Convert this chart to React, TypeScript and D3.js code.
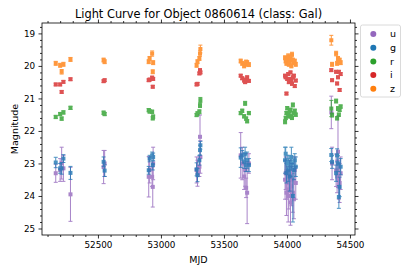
import React, { useEffect, useRef } from "react";
import * as d3 from "d3";

// observation epochs (shared by all filters)
const mjd = [
  52165, 52200, 52212, 52226, 52282,
  52545, 52553,
  52903, 52910, 52930, 52935, 52938,
  53283, 53290, 53305, 53310, 53313,
  53633, 53645, 53660, 53668, 53676, 53684, 53698,
  53985, 53990, 53996, 54002, 54010, 54015, 54022, 54028, 54035, 54040, 54047, 54055, 54062, 54070,
  54352, 54358, 54390, 54398, 54405, 54412, 54418, 54426,
];

const uMag = [
  23.3, 23.2, 22.99, 23.15, 23.95,
  23.11, 23.0,
  23.41, 23.2, 23.41, 23.72, 23.0,
  23.2, 23.3, 23.1, 22.18, 22.8,
  22.75, 23.0, 23.4, 23.2, 23.75, 23.9, 23.0,
  23.5, 23.3, 23.9, 23.6, 24.0, 23.8, 23.4, 24.2, 23.7, 23.5, 23.9, 24.1, 23.2, 23.6,
  21.43, 23.0, 23.21, 23.4, 22.64, 23.5, 23.6, 23.3,
];
const uErr = [
  0.28, 0.35, 0.49, 0.4, 0.83,
  0.51, 0.4,
  0.62, 0.4, 0.3, 0.62, 0.5,
  0.4, 0.4, 0.3, 0.67, 0.5,
  0.7, 0.5, 0.4, 0.5, 0.3, 0.95, 0.3,
  0.6, 0.5, 0.7, 0.5, 0.8, 0.6, 0.5, 0.7, 0.6, 0.5, 0.6, 0.6, 0.4, 0.5,
  0.5, 0.5, 0.5, 0.5, 1.1, 0.6, 0.6, 0.5,
];

const gMag = [
  22.97, 23.15, 23.15, 22.85, 23.29,
  22.95, 23.22,
  23.21, 22.85, 22.75, 23.05, 22.8,
  23.18, 23.36, 22.9, 22.59, 22.44,
  22.82, 22.75, 22.95, 22.7, 23.05, 22.9, 23.05,
  22.9, 22.7, 23.3, 23.0, 23.2, 22.95, 23.4, 23.1, 22.8, 23.0, 24.0, 23.2, 22.9, 23.1,
  22.74, 22.95, 23.3, 22.75, 23.0, 24.03, 23.72, 23.1,
];
const gErr = [
  0.16, 0.15, 0.18, 0.12, 0.2,
  0.15, 0.18,
  0.12, 0.1, 0.1, 0.15, 0.12,
  0.2, 0.2, 0.15, 0.15, 0.12,
  0.3, 0.15, 0.2, 0.2, 0.2, 0.25, 0.2,
  0.4, 0.2, 0.3, 0.25, 0.35, 0.2, 0.45, 0.3, 0.3, 0.2, 0.8, 0.3, 0.2, 0.3,
  0.2, 0.2, 0.25, 0.2, 0.25, 0.35, 0.3, 0.25,
];

const rMag = [
  21.57, 21.48, 21.62, 21.43, 21.29,
  21.44, 21.48,
  21.36, 21.4, 21.41, 21.61, 21.56,
  21.51, 21.46, 21.41, 21.21, 21.05,
  21.45, 21.38, 21.55, 21.15, 21.62, 21.7, 21.45,
  21.72, 21.6, 21.45, 21.3, 21.5, 21.55, 21.4, 21.35, 21.55, 21.6, 21.2, 21.45, 21.38, 21.5,
  21.31, 21.51, 21.08, 21.61, 21.31, 21.5, 21.35, 21.25,
];
const rErr = [
  0.05, 0.05, 0.05, 0.05, 0.05,
  0.05, 0.05,
  0.05, 0.05, 0.05, 0.05, 0.05,
  0.05, 0.05, 0.06, 0.07, 0.08,
  0.05, 0.05, 0.05, 0.06, 0.05, 0.05, 0.05,
  0.06, 0.05, 0.05, 0.05, 0.05, 0.05, 0.05, 0.05, 0.05, 0.05, 0.06, 0.05, 0.05, 0.05,
  0.25, 0.06, 0.06, 0.05, 0.06, 0.05, 0.05, 0.05,
];

const iMag = [
  20.57, 20.57, 20.8, 20.49, 20.41,
  20.47, 20.44,
  20.44, 20.42, 20.36, 20.64, 20.4,
  20.57, 20.55, 20.23, 20.13, 20.2,
  20.3, 20.38, 20.45, 20.5, 20.42, 20.35, 20.46,
  20.3, 20.35, 20.85, 20.4, 20.25, 20.5, 20.4, 20.2, 20.45, 20.55, 20.35, 20.3, 20.62, 20.45,
  20.13, 20.44, 20.18, 20.54, 20.35, 20.18, 20.74, 20.25,
];
const iErr = mjd.map(() => 0.04);

const zMag = [
  19.92, 19.98, 20.18, 19.95, 19.8,
  19.82, 19.87,
  19.87, 19.77, 19.62, 20.18, 19.9,
  19.98, 19.87, 19.77, 19.62, 19.48,
  19.85, 19.92, 20.0, 19.95, 19.88, 19.9, 19.96,
  19.75, 19.85, 19.92, 19.8, 19.7, 19.95, 19.88, 19.78, 20.0, 19.65, 19.82, 19.9, 19.85, 19.95,
  19.21, 19.95, 19.62, 19.92, 19.77, 19.85, 19.82, 19.9,
];
const zErr = [
  0.06, 0.06, 0.07, 0.06, 0.06,
  0.06, 0.06,
  0.06, 0.06, 0.08, 0.06, 0.06,
  0.06, 0.06, 0.06, 0.08, 0.12,
  0.06, 0.06, 0.06, 0.06, 0.06, 0.06, 0.06,
  0.06, 0.06, 0.06, 0.06, 0.07, 0.06, 0.06, 0.06, 0.06, 0.07, 0.06, 0.06, 0.06, 0.06,
  0.15, 0.06, 0.07, 0.06, 0.06, 0.06, 0.06, 0.06,
];

const bands = ["u", "g", "r", "i", "z"];
const bandMags = [uMag, gMag, rMag, iMag, zMag];
const bandErrs = [uErr, gErr, rErr, iErr, zErr];
const bandColors = ["#9467bd", "#1f77b4", "#2ca02c", "#d62728", "#ff7f0e"];

const xTicks = [52500, 53000, 53500, 54000, 54500];
const yTicks = [19, 20, 21, 22, 23, 24, 25];

const font = "DejaVu Sans, sans-serif";

const App = () => {
  const svgRef = useRef<SVGSVGElement>(null);

  useEffect(() => {
    const width = 411;
    const height = 274;
    const left = 42;
    const right = 355;
    const top = 23;
    const bottom = 235;

    const x = d3.scaleLinear().domain([52056, 54540]).range([left, right]);
    const y = d3.scaleLinear().domain([18.68, 25.2]).range([top, bottom]);

    const svg = d3
      .select(svgRef.current)
      .attr("width", width)
      .attr("height", height)
      .attr("viewBox", [0, 0, width, height].join(" "));

    svg.selectAll("*").remove();

    svg.append("rect").attr("width", width).attr("height", height).attr("fill", "white");

    const xMinor = d3.range(52100, 54540, 100).filter((v) => v % 500 !== 0);
    const yMinor = d3.range(18.8, 25.2, 0.2).filter((v) => Math.abs(v - Math.round(v)) > 0.01);

    const styleAxis = (g: any) => {
      g.select(".domain").remove();
      g.selectAll("line").attr("stroke", "#000").attr("stroke-width", 0.8);
      g.selectAll("text")
        .attr("fill", "#000")
        .attr("font-family", font)
        .attr("font-size", 8.8);
    };

    // bottom axis
    svg.append("g").attr("transform", `translate(0,${bottom})`)
      .call(d3.axisBottom(x).tickValues(xTicks).tickSize(3.5).tickPadding(3.3).tickFormat(d3.format("d")))
      .call(styleAxis);
    svg.append("g").attr("transform", `translate(0,${bottom})`)
      .call(d3.axisBottom(x).tickValues(xMinor).tickSize(2).tickFormat(() => ""))
      .call(styleAxis);
    // top axis
    svg.append("g").attr("transform", `translate(0,${top})`)
      .call(d3.axisTop(x).tickValues(xTicks).tickSize(3.5).tickFormat(() => ""))
      .call(styleAxis);
    svg.append("g").attr("transform", `translate(0,${top})`)
      .call(d3.axisTop(x).tickValues(xMinor).tickSize(2).tickFormat(() => ""))
      .call(styleAxis);
    // left axis
    svg.append("g").attr("transform", `translate(${left},0)`)
      .call(d3.axisLeft(y).tickValues(yTicks).tickSize(3.5).tickPadding(3.3).tickFormat(d3.format("d")))
      .call(styleAxis);
    svg.append("g").attr("transform", `translate(${left},0)`)
      .call(d3.axisLeft(y).tickValues(yMinor).tickSize(2).tickFormat(() => ""))
      .call(styleAxis);
    // right axis
    svg.append("g").attr("transform", `translate(${right},0)`)
      .call(d3.axisRight(y).tickValues(yTicks).tickSize(3.5).tickFormat(() => ""))
      .call(styleAxis);
    svg.append("g").attr("transform", `translate(${right},0)`)
      .call(d3.axisRight(y).tickValues(yMinor).tickSize(2).tickFormat(() => ""))
      .call(styleAxis);

    // data
    const series = bands.map((b, i) => ({
      band: b,
      color: bandColors[i],
      points: mjd.map((t, k) => ({ t, m: bandMags[i][k], e: bandErrs[i][k] })),
    }));

    const plot = svg.append("g");
    const groups = plot
      .selectAll("g")
      .data(series)
      .join("g")
      .attr("opacity", 0.8)
      .attr("stroke", (d) => d.color)
      .attr("fill", (d) => d.color);

    const pts = groups
      .selectAll("g")
      .data((d) => d.points)
      .join("g");

    pts.append("line")
      .attr("x1", (d) => x(d.t))
      .attr("x2", (d) => x(d.t))
      .attr("y1", (d) => y(d.m - d.e))
      .attr("y2", (d) => y(d.m + d.e))
      .attr("stroke-width", 1);
    pts.append("line")
      .attr("x1", (d) => x(d.t) - 2)
      .attr("x2", (d) => x(d.t) + 2)
      .attr("y1", (d) => y(d.m - d.e))
      .attr("y2", (d) => y(d.m - d.e))
      .attr("stroke-width", 1);
    pts.append("line")
      .attr("x1", (d) => x(d.t) - 2)
      .attr("x2", (d) => x(d.t) + 2)
      .attr("y1", (d) => y(d.m + d.e))
      .attr("y2", (d) => y(d.m + d.e))
      .attr("stroke-width", 1);
    pts.append("rect")
      .attr("x", (d) => x(d.t) - 2)
      .attr("y", (d) => y(d.m) - 2)
      .attr("width", 4)
      .attr("height", 4)
      .attr("stroke", "none");

    // frame
    svg.append("rect")
      .attr("x", left)
      .attr("y", top)
      .attr("width", right - left)
      .attr("height", bottom - top)
      .attr("fill", "none")
      .attr("stroke", "#000")
      .attr("stroke-width", 0.8);

    // title and labels
    svg.append("text")
      .attr("x", (left + right) / 2)
      .attr("y", 18)
      .attr("text-anchor", "middle")
      .attr("font-family", font)
      .attr("font-size", 11.4)
      .text("Light Curve for Object 0860614 (class: Gal)");

    svg.append("text")
      .attr("x", (left + right) / 2)
      .attr("y", 263)
      .attr("text-anchor", "middle")
      .attr("font-family", font)
      .attr("font-size", 9.5)
      .text("MJD");

    svg.append("text")
      .attr("transform", `translate(18,${(top + bottom) / 2}) rotate(-90)`)
      .attr("text-anchor", "middle")
      .attr("font-family", font)
      .attr("font-size", 9.5)
      .text("Magnitude");

    // legend
    const legend = svg.append("g");
    legend.append("rect")
      .attr("x", 360.5)
      .attr("y", 25)
      .attr("width", 40)
      .attr("height", 72)
      .attr("rx", 2)
      .attr("fill", "white")
      .attr("stroke", "#d0d0d0")
      .attr("stroke-width", 0.8);
    const items = legend
      .selectAll("g")
      .data(series)
      .join("g")
      .attr("transform", (d, i) => `translate(0,${34 + i * 13.7})`);
    items.append("circle")
      .attr("cx", 373.3)
      .attr("cy", 0)
      .attr("r", 3)
      .attr("fill", (d) => d.color);
    items.append("text")
      .attr("x", 390)
      .attr("y", 0)
      .attr("dy", "0.35em")
      .attr("font-family", font)
      .attr("font-size", 9.5)
      .text((d) => d.band);
  }, []);

  return <svg ref={svgRef} style={{ position: "absolute", left: 0, top: 0, display: "block" }} />;
};

export default App;
